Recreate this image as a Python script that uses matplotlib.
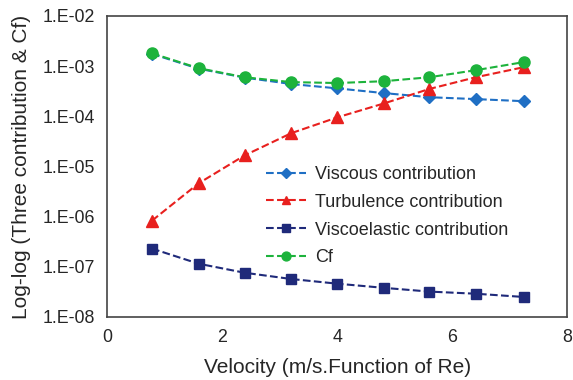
import math
import matplotlib.pyplot as plt
from matplotlib.ticker import FuncFormatter

plt.rcParams['font.family'] = ['Liberation Sans', 'DejaVu Sans']

# velocity (m/s)
velocity = [0.78, 1.59, 2.39, 3.2, 4.0, 4.81, 5.6, 6.41, 7.24]

viscous = [1.75e-3, 8.9e-4, 5.9e-4, 4.4e-4, 3.6e-4, 2.9e-4, 2.4e-4, 2.2e-4, 2.0e-4]
turbulence = [8.3e-7, 4.6e-6, 1.66e-5, 4.6e-5, 9.5e-5, 1.8e-4, 3.5e-4, 6.0e-4, 9.5e-4]
viscoelastic = [2.3e-7, 1.15e-7, 7.6e-8, 5.7e-8, 4.6e-8, 3.8e-8, 3.2e-8, 2.9e-8, 2.5e-8]
cf = [1.8e-3, 9.1e-4, 6.0e-4, 4.8e-4, 4.6e-4, 5.0e-4, 6.0e-4, 8.3e-4, 1.2e-3]

fig = plt.figure(figsize=(5.73, 3.8), dpi=100)
ax = fig.add_axes([0.187, 0.166, 0.803, 0.792])

ax.plot(velocity, viscous, '--', color='#1f6fc4', marker='D', markersize=6, lw=1.5,
        label='Viscous contribution')
ax.plot(velocity, turbulence, '--', color='#e8201e', marker='^', markersize=8, lw=1.5,
        label='Turbulence contribution')
ax.plot(velocity, viscoelastic, '--', color='#1f2a7a', marker='s', markersize=7, lw=1.5,
        label='Viscoelastic contribution')
ax.plot(velocity, cf, '--', color='#1db33c', marker='o', markersize=8, lw=1.5,
        label='Cf')

ax.set_yscale('log')
ax.set_ylim(1e-8, 1e-2)
ax.set_xlim(0, 8)
ax.set_xticks([0, 2, 4, 6, 8])
ax.set_yticks([1e-8, 1e-7, 1e-6, 1e-5, 1e-4, 1e-3, 1e-2])
ax.yaxis.set_major_formatter(FuncFormatter(lambda v, p: '1.E-%02d' % round(-math.log10(v))))
ax.minorticks_off()
ax.tick_params(length=0, labelsize=12.8, colors='#262626', pad=9)

for s in ax.spines.values():
    s.set_color('#444444')
    s.set_linewidth(1.2)

ax.set_xlabel('Velocity (m/s.Function of Re)', fontsize=15, color='#262626', labelpad=8)
ax.set_ylabel('Log-log (Three contribution & Cf)', fontsize=15, color='#262626', labelpad=8)

ax.legend(loc='center left', bbox_to_anchor=(0.345, 0.335), frameon=False, fontsize=13,
          handlelength=2.2, handletextpad=0.5, labelspacing=0.6, markerscale=0.8,
          borderaxespad=0, borderpad=0, labelcolor='#262626')

fig.savefig('out.png', dpi=100)
